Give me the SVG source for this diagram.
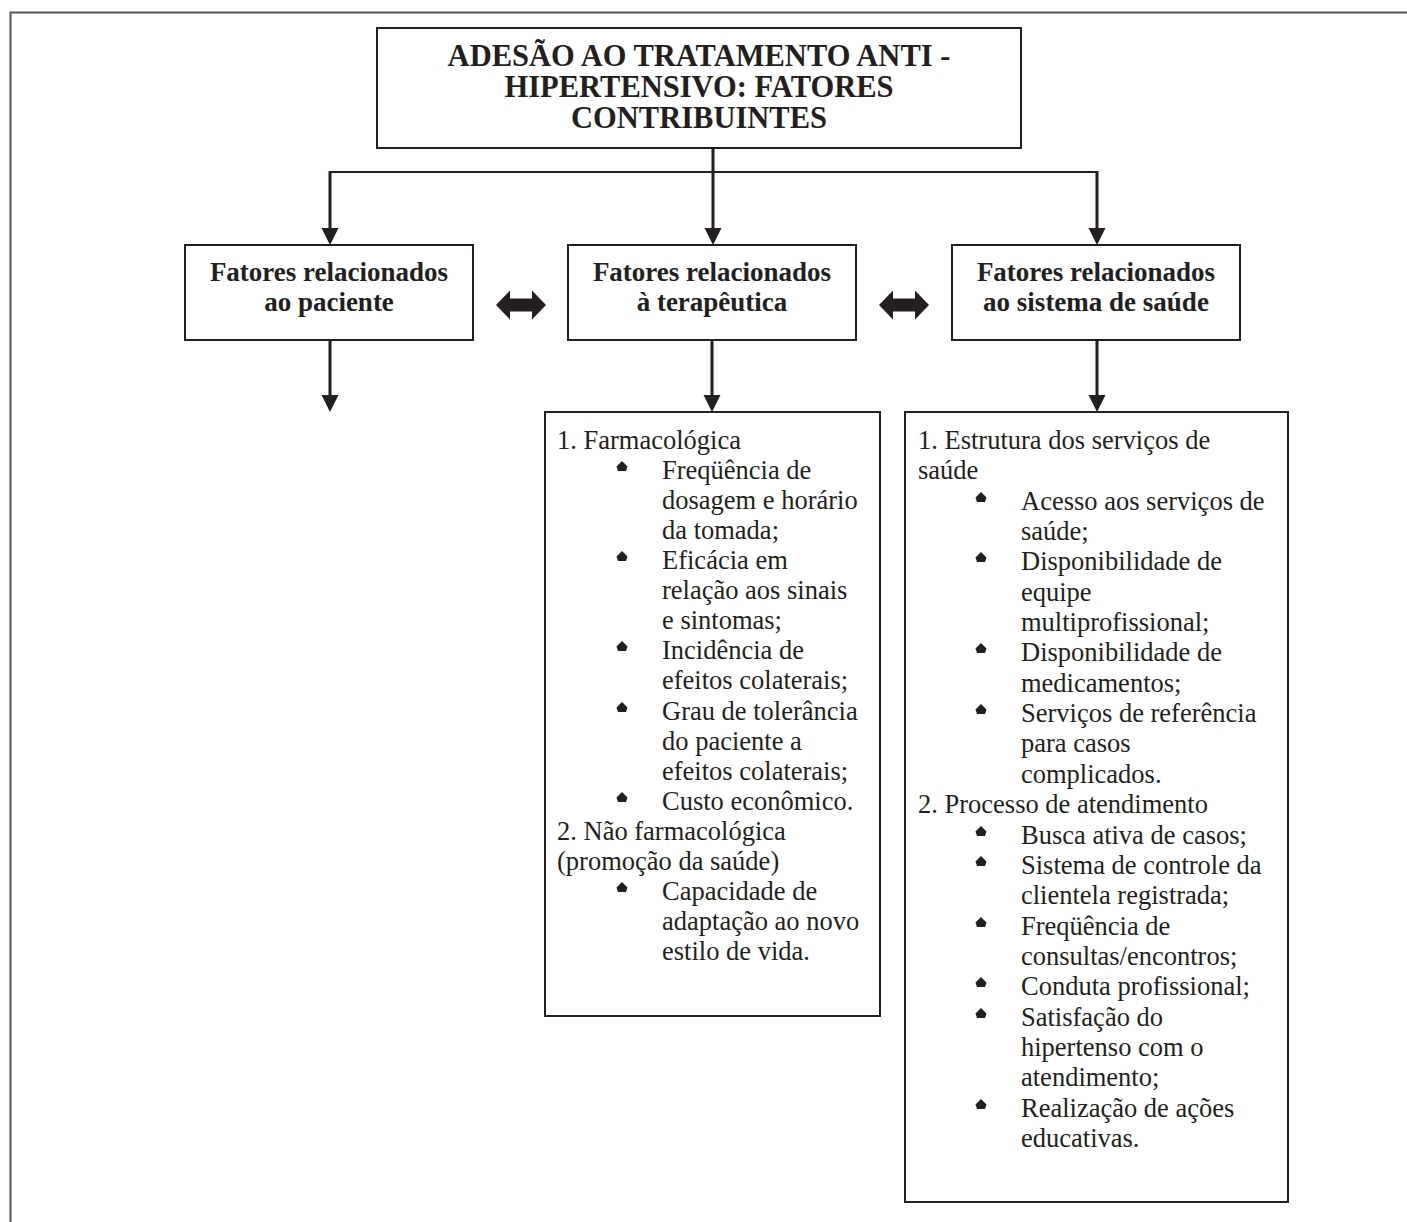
<svg xmlns="http://www.w3.org/2000/svg" width="1407" height="1222" viewBox="0 0 1407 1222">
<defs>
<style>
.box{fill:#fff;stroke:#231f20;stroke-width:2}
.frame{fill:none;stroke:#555;stroke-width:2}
.ln{stroke:#231f20;fill:none}
.t{font-family:"Liberation Serif","Times New Roman",serif;fill:#231f20}
.h{font-weight:bold;font-size:27px;text-anchor:middle}
.ti{font-size:30.5px}
.n{font-size:26.5px}
</style>
<path id="bul" d="M0,0 L5.5,5.5 L4,10 L-4,10 L-5.5,5.5 Z" fill="#231f20"/>
<path id="dn" d="M-8.5,-17 L8.5,-17 L0,0 Z" fill="#231f20"/>
<path id="dbl" d="M0,0 L14,-14.5 L14,-6.5 L36,-6.5 L36,-14.5 L50,0 L36,14.5 L36,6.5 L14,6.5 L14,14.5 Z" fill="#231f20"/>
</defs>
<rect width="1407" height="1222" fill="#fff"/>
<path class="frame" d="M10.5,1222 L10.5,12.5 L1407,12.5"/>

<g id="connectors">
<line class="ln" x1="713" y1="148" x2="713" y2="230" stroke-width="3"/>
<use href="#dn" x="713" y="245"/>
<line class="ln" x1="330" y1="172" x2="1097" y2="172" stroke-width="2"/>
<line class="ln" x1="330" y1="171" x2="330" y2="230" stroke-width="3"/>
<use href="#dn" x="330" y="245"/>
<line class="ln" x1="1097" y1="171" x2="1097" y2="230" stroke-width="3"/>
<use href="#dn" x="1097" y="245"/>
<line class="ln" x1="330" y1="340" x2="330" y2="397" stroke-width="3"/>
<use href="#dn" x="330" y="412"/>
<line class="ln" x1="712" y1="340" x2="712" y2="397" stroke-width="3"/>
<use href="#dn" x="712" y="412"/>
<line class="ln" x1="1097" y1="340" x2="1097" y2="397" stroke-width="3"/>
<use href="#dn" x="1097" y="412"/>
<use href="#dbl" x="496" y="305"/>
<use href="#dbl" x="879" y="305"/>
</g>

<g id="title">
<rect class="box" x="377" y="28" width="644" height="120"/>
<text class="t h ti" x="699" y="66">ADESÃO AO TRATAMENTO ANTI -</text>
<text class="t h ti" x="699" y="97">HIPERTENSIVO: FATORES</text>
<text class="t h ti" x="699" y="128">CONTRIBUINTES</text>
</g>

<g id="paciente">
<rect class="box" x="185" y="245" width="288" height="95"/>
<text class="t h" x="329" y="281">Fatores relacionados</text>
<text class="t h" x="329" y="311">ao paciente</text>
</g>

<g id="terapeutica">
<rect class="box" x="568" y="245" width="288" height="95"/>
<text class="t h" x="712" y="281">Fatores relacionados</text>
<text class="t h" x="712" y="311">à terapêutica</text>
</g>

<g id="sistema">
<rect class="box" x="952" y="245" width="288" height="95"/>
<text class="t h" x="1096" y="281">Fatores relacionados</text>
<text class="t h" x="1096" y="311">ao sistema de saúde</text>
</g>

<g id="terapeutica-detalhe">
<rect class="box" x="545" y="412" width="335" height="604"/>
<g class="t n">
<text x="557" y="449">1. Farmacológica</text>
<text x="662" y="479">Freqüência de</text>
<text x="662" y="509">dosagem e horário</text>
<text x="662" y="539">da tomada;</text>
<text x="662" y="569">Eficácia em</text>
<text x="662" y="599">relação aos sinais</text>
<text x="662" y="629">e sintomas;</text>
<text x="662" y="659">Incidência de</text>
<text x="662" y="689">efeitos colaterais;</text>
<text x="662" y="720">Grau de tolerância</text>
<text x="662" y="750">do paciente a</text>
<text x="662" y="780">efeitos colaterais;</text>
<text x="662" y="810">Custo econômico.</text>
<text x="557" y="840">2. Não farmacológica</text>
<text x="557" y="870">(promoção da saúde)</text>
<text x="662" y="900">Capacidade de</text>
<text x="662" y="930">adaptação ao novo</text>
<text x="662" y="960">estilo de vida.</text>
</g>
<use href="#bul" x="622" y="461"/>
<use href="#bul" x="622" y="551"/>
<use href="#bul" x="622" y="641"/>
<use href="#bul" x="622" y="702"/>
<use href="#bul" x="622" y="792"/>
<use href="#bul" x="622" y="882"/>
</g>

<g id="sistema-detalhe">
<rect class="box" x="905" y="412" width="383" height="790"/>
<g class="t n">
<text x="918" y="449">1. Estrutura dos serviços de</text>
<text x="918" y="479">saúde</text>
<text x="1021" y="510">Acesso aos serviços de</text>
<text x="1021" y="540">saúde;</text>
<text x="1021" y="570">Disponibilidade de</text>
<text x="1021" y="601">equipe</text>
<text x="1021" y="631">multiprofissional;</text>
<text x="1021" y="661">Disponibilidade de</text>
<text x="1021" y="692">medicamentos;</text>
<text x="1021" y="722">Serviços de referência</text>
<text x="1021" y="752">para casos</text>
<text x="1021" y="783">complicados.</text>
<text x="918" y="813">2. Processo de atendimento</text>
<text x="1021" y="844">Busca ativa de casos;</text>
<text x="1021" y="874">Sistema de controle da</text>
<text x="1021" y="904">clientela registrada;</text>
<text x="1021" y="935">Freqüência de</text>
<text x="1021" y="965">consultas/encontros;</text>
<text x="1021" y="995">Conduta profissional;</text>
<text x="1021" y="1026">Satisfação do</text>
<text x="1021" y="1056">hipertenso com o</text>
<text x="1021" y="1086">atendimento;</text>
<text x="1021" y="1117">Realização de ações</text>
<text x="1021" y="1147">educativas.</text>
</g>
<use href="#bul" x="981" y="492"/>
<use href="#bul" x="981" y="552"/>
<use href="#bul" x="981" y="643"/>
<use href="#bul" x="981" y="704"/>
<use href="#bul" x="981" y="826"/>
<use href="#bul" x="981" y="856"/>
<use href="#bul" x="981" y="917"/>
<use href="#bul" x="981" y="977"/>
<use href="#bul" x="981" y="1008"/>
<use href="#bul" x="981" y="1099"/>
</g>
</svg>
